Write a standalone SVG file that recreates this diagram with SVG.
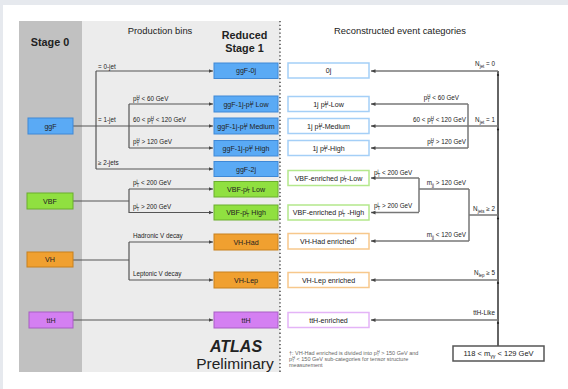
<svg xmlns="http://www.w3.org/2000/svg" width="568" height="389" viewBox="0 0 568 389">
<defs>
<marker id="ar" viewBox="0 0 6 6" refX="6" refY="3" markerWidth="4.5" markerHeight="4.5" orient="auto" markerUnits="userSpaceOnUse"><path d="M0,0.5 L6,3 L0,5.5 z" fill="#444"/></marker>
<style>
text{font-family:"Liberation Sans",Arial,sans-serif;fill:#222}
.hd{font-size:9.4px}
.bh{font-size:10.8px;font-weight:bold}
.bx{font-size:7.1px;text-anchor:middle}
.lb{font-size:6.3px}
.lr{font-size:6.3px;text-anchor:end}
.ln{fill:none;stroke:#555;stroke-width:1.2}
.lr2{fill:none;stroke:#777;stroke-width:1.5}
.tr{fill:none;stroke:#111;stroke-width:1.3}
.a{marker-end:url(#ar)}
.ggf{fill:#5aaaf5;stroke:#3e88d6;stroke-width:1}
.vbf{fill:#90e040;stroke:#6aae2c;stroke-width:1}
.vh{fill:#f0a030;stroke:#c8801c;stroke-width:1}
.tth{fill:#d47ff2;stroke:#a85ec4;stroke-width:1}
.rg{fill:#fff;stroke:#a4cff7;stroke-width:1.5}
.rv{fill:#fff;stroke:#b4e88c;stroke-width:1.5}
.rh{fill:#fff;stroke:#f7c88c;stroke-width:1.5}
.rt{fill:#fff;stroke:#e4b4f7;stroke-width:1.5}
.s{font-size:70%}
.fn{font-size:5.5px;fill:#666}
</style>
</defs>
<rect x="0" y="0" width="568" height="389" fill="#e6e9ee"/>
<rect x="3" y="5" width="565" height="384" fill="#fff"/>
<rect x="19" y="21" width="63" height="351" fill="#c1c1c1"/>
<rect x="82" y="21" width="198" height="351" fill="#ececec"/>
<line x1="280" y1="21" x2="280" y2="372" stroke="#333" stroke-width="1.3" stroke-dasharray="1.3 2.5"/>
<text class="bh" x="50" y="46" text-anchor="middle">Stage 0</text>
<text class="hd" x="160" y="34" text-anchor="middle">Production bins</text>
<text class="bh" x="244.5" y="39" text-anchor="middle">Reduced</text>
<text class="bh" x="244.5" y="52" text-anchor="middle">Stage 1</text>
<text class="hd" x="400" y="34" text-anchor="middle">Reconstructed event categories</text>

<g id="connectors">
<path class="ln" d="M73,126 H96 M96,71 V169"/>
<path class="ln a" d="M96,71 H213"/>
<path class="ln" d="M96,126 H129 M129,104 V148"/>
<path class="ln a" d="M129,104 H213"/>
<path class="ln a" d="M129,126 H213"/>
<path class="ln a" d="M129,148 H213"/>
<path class="ln a" d="M96,169 H213"/>
<path class="ln" d="M73,201 H129 M129,189 V213"/>
<path class="ln a" d="M129,189 H213"/>
<path class="ln a" d="M129,212.5 H213"/>
<path class="ln" d="M73,260 H129 M129,242 V280"/>
<path class="ln a" d="M129,242 H213"/>
<path class="ln a" d="M129,280 H213"/>
<path class="ln a" d="M73,320 H213"/>

<path class="tr" d="M498,71 V346"/>
<path class="lr2 a" d="M498,71 H371"/>
<path class="lr2 a" d="M498,126 H371"/>
<path class="lr2" d="M468,104 V148"/>
<path class="lr2 a" d="M468,104 H371"/>
<path class="lr2 a" d="M468,148 H371"/>
<path class="lr2" d="M498,215 H469 M469,189 V241 M469,189 H419 M419,178 V212"/>
<path class="lr2 a" d="M419,178 H371"/>
<path class="lr2 a" d="M419,212.5 H371"/>
<path class="lr2 a" d="M469,241 H371"/>
<path class="lr2 a" d="M498,280 H371"/>
<path class="lr2 a" d="M498,320 H371"/>
<g fill="#222"><circle cx="498" cy="75" r="1.1"/><circle cx="498" cy="129.5" r="1.1"/><circle cx="498" cy="218.5" r="1.1"/><circle cx="498" cy="283" r="1.1"/><circle cx="498" cy="323" r="1.1"/></g>

<text class="lb" x="98" y="69">= 0-jet</text>
<text class="lb" x="98" y="122">= 1-jet</text>
<text class="lb" x="133" y="101">p<tspan class="s" dy="1.5">T</tspan><tspan class="s" dx="-2.6" dy="-3.5">H</tspan><tspan dy="2"> &lt; 60 GeV</tspan></text>
<text class="lb" x="133" y="122">60 &lt; p<tspan class="s" dy="1.5">T</tspan><tspan class="s" dx="-2.6" dy="-3.5">H</tspan><tspan dy="2"> &lt; 120 GeV</tspan></text>
<text class="lb" x="133" y="144">p<tspan class="s" dy="1.5">T</tspan><tspan class="s" dx="-2.6" dy="-3.5">H</tspan><tspan dy="2"> &gt; 120 GeV</tspan></text>
<text class="lb" x="98" y="165">≥ 2-jets</text>
<text class="lb" x="133" y="185">p<tspan class="s" dy="-2">j</tspan><tspan class="s" dx="-1" dy="3.5">T</tspan><tspan dy="-1.5"> &lt; 200 GeV</tspan></text>
<text class="lb" x="133" y="209">p<tspan class="s" dy="-2">j</tspan><tspan class="s" dx="-1" dy="3.5">T</tspan><tspan dy="-1.5"> &gt; 200 GeV</tspan></text>
<text class="lb" x="133" y="238">Hadronic V decay</text>
<text class="lb" x="133" y="276">Leptonic V decay</text>

<text class="lr" x="495" y="66">N<tspan class="s" dy="1.5">jet</tspan><tspan dy="-1.5"> = 0</tspan></text>
<text class="lr" x="459" y="100">p<tspan class="s" dy="1.5">T</tspan><tspan class="s" dx="-2.6" dy="-3.5">H</tspan><tspan dy="2"> &lt; 60 GeV</tspan></text>
<text class="lr" x="466" y="122">60 &lt; p<tspan class="s" dy="1.5">T</tspan><tspan class="s" dx="-2.6" dy="-3.5">H</tspan><tspan dy="2"> &lt; 120 GeV</tspan></text>
<text class="lr" x="495" y="122">N<tspan class="s" dy="1.5">jet</tspan><tspan dy="-1.5"> = 1</tspan></text>
<text class="lr" x="466" y="144">p<tspan class="s" dy="1.5">T</tspan><tspan class="s" dx="-2.6" dy="-3.5">H</tspan><tspan dy="2"> &gt; 120 GeV</tspan></text>
<text class="lb" x="374" y="175">p<tspan class="s" dy="-2">j</tspan><tspan class="s" dx="-1" dy="3.5">T</tspan><tspan dy="-1.5"> &lt; 200 GeV</tspan></text>
<text class="lb" x="374" y="208">p<tspan class="s" dy="-2">j</tspan><tspan class="s" dx="-1" dy="3.5">T</tspan><tspan dy="-1.5"> &gt; 200 GeV</tspan></text>
<text class="lr" x="466" y="185">m<tspan class="s" dy="1.5">jj</tspan><tspan dy="-1.5"> &gt; 120 GeV</tspan></text>
<text class="lr" x="495" y="211">N<tspan class="s" dy="1.5">jets</tspan><tspan dy="-1.5"> ≥ 2</tspan></text>
<text class="lr" x="466" y="237">m<tspan class="s" dy="1.5">jj</tspan><tspan dy="-1.5"> &lt; 120 GeV</tspan></text>
<text class="lr" x="495" y="275">N<tspan class="s" dy="1.5">lep</tspan><tspan dy="-1.5"> ≥ 5</tspan></text>
<text class="lr" x="495" y="315">ttH-Like</text>
</g>

<g id="s0-ggF"><rect class="ggf" x="28" y="118" width="45" height="16"/><text class="bx" x="50.5" y="128.5">ggF</text></g>
<g id="s0-VBF"><rect class="vbf" x="27" y="193" width="46" height="16"/><text class="bx" x="50" y="203.5">VBF</text></g>
<g id="s0-VH"><rect class="vh" x="27" y="252" width="46" height="15"/><text class="bx" x="50" y="262">VH</text></g>
<g id="s0-ttH"><rect class="tth" x="29" y="312" width="44" height="16"/><text class="bx" x="51" y="322.5">ttH</text></g>

<g id="s1-ggF-0j"><rect class="ggf" x="214" y="63" width="64" height="15.5"/><text class="bx" x="246" y="73">ggF-0j</text></g>
<g id="s1-ggF-1j-low"><rect class="ggf" x="214" y="96" width="64" height="16"/><text class="bx" x="246" y="106.5">ggF-1j-p<tspan class="s" dy="1.5">T</tspan><tspan class="s" dx="-2.8" dy="-3.5">H</tspan><tspan dy="2"> Low</tspan></text></g>
<g id="s1-ggF-1j-med"><rect class="ggf" x="214" y="118" width="64" height="16"/><text class="bx" x="246" y="128.5">ggF-1j-p<tspan class="s" dy="1.5">T</tspan><tspan class="s" dx="-2.8" dy="-3.5">H</tspan><tspan dy="2"> Medium</tspan></text></g>
<g id="s1-ggF-1j-high"><rect class="ggf" x="214" y="140.5" width="64" height="15.5"/><text class="bx" x="246" y="150.5">ggF-1j-p<tspan class="s" dy="1.5">T</tspan><tspan class="s" dx="-2.8" dy="-3.5">H</tspan><tspan dy="2"> High</tspan></text></g>
<g id="s1-ggF-2j"><rect class="ggf" x="214" y="161.5" width="64" height="15"/><text class="bx" x="246" y="171.5">ggF-2j</text></g>
<g id="s1-VBF-low"><rect class="vbf" x="214" y="181.5" width="64" height="15.5"/><text class="bx" x="246" y="191.5">VBF-p<tspan class="s" dy="-2">j</tspan><tspan class="s" dx="-1.1" dy="3.5">T</tspan><tspan dy="-1.5"> Low</tspan></text></g>
<g id="s1-VBF-high"><rect class="vbf" x="214" y="205" width="64" height="15"/><text class="bx" x="246" y="215">VBF-p<tspan class="s" dy="-2">j</tspan><tspan class="s" dx="-1.1" dy="3.5">T</tspan><tspan dy="-1.5"> High</tspan></text></g>
<g id="s1-VH-Had"><rect class="vh" x="214" y="234" width="64" height="16"/><text class="bx" x="246" y="244.5">VH-Had</text></g>
<g id="s1-VH-Lep"><rect class="vh" x="214" y="272" width="64" height="16"/><text class="bx" x="246" y="282.5">VH-Lep</text></g>
<g id="s1-ttH"><rect class="tth" x="214" y="312" width="64" height="16"/><text class="bx" x="246" y="322.5">ttH</text></g>

<g id="c-0j"><rect class="rg" x="288" y="63" width="81" height="15"/><text class="bx" x="328.5" y="73">0j</text></g>
<g id="c-1j-low"><rect class="rg" x="288" y="96.5" width="81" height="15"/><text class="bx" x="328.5" y="106.5">1j p<tspan class="s" dy="1.5">T</tspan><tspan class="s" dx="-2.8" dy="-3.5">H</tspan><tspan dy="2">-Low</tspan></text></g>
<g id="c-1j-med"><rect class="rg" x="288" y="118.5" width="81" height="15"/><text class="bx" x="328.5" y="128.5">1j p<tspan class="s" dy="1.5">T</tspan><tspan class="s" dx="-2.8" dy="-3.5">H</tspan><tspan dy="2">-Medium</tspan></text></g>
<g id="c-1j-high"><rect class="rg" x="288" y="140.5" width="81" height="15"/><text class="bx" x="328.5" y="150.5">1j p<tspan class="s" dy="1.5">T</tspan><tspan class="s" dx="-2.8" dy="-3.5">H</tspan><tspan dy="2">-High</tspan></text></g>
<g id="c-VBF-low"><rect class="rv" x="288" y="170.5" width="81" height="15"/><text class="bx" x="328.5" y="180.5">VBF-enriched p<tspan class="s" dy="-2">j</tspan><tspan class="s" dx="-1.1" dy="3.5">T</tspan><tspan dy="-1.5">-Low</tspan></text></g>
<g id="c-VBF-high"><rect class="rv" x="288" y="205" width="81" height="15"/><text class="bx" x="328.5" y="215">VBF-enriched p<tspan class="s" dy="-2">j</tspan><tspan class="s" dx="-1.1" dy="3.5">T</tspan><tspan dy="-1.5"> -High</tspan></text></g>
<g id="c-VH-Had"><rect class="rh" x="288" y="233.5" width="81" height="15.5"/><text class="bx" x="328.5" y="243.5">VH-Had enriched<tspan class="s" dy="-2.5">†</tspan></text></g>
<g id="c-VH-Lep"><rect class="rh" x="288" y="272.5" width="81" height="15"/><text class="bx" x="328.5" y="282.5">VH-Lep enriched</text></g>
<g id="c-ttH"><rect class="rt" x="288" y="312.5" width="81" height="15"/><text class="bx" x="328.5" y="322.5">ttH-enriched</text></g>

<g id="mass"><rect x="453" y="346" width="91" height="15" fill="#fff" stroke="#555" stroke-width="1.5"/><text x="498.5" y="356.3" text-anchor="middle" font-size="7.5px">118 &lt; m<tspan class="s" dy="1.5">γγ</tspan><tspan dy="-1.5"> &lt; 129 GeV</tspan></text></g>

<text x="236" y="352" text-anchor="middle" font-size="16px" font-weight="bold" font-style="italic">ATLAS</text>
<text x="235" y="369" text-anchor="middle" font-size="15.5px">Preliminary</text>

<text class="fn" x="289" y="354.5">†: VH-Had enriched is divided into p<tspan class="s" dy="1">T</tspan><tspan class="s" dx="-2.2" dy="-2.5">H</tspan><tspan dy="1.5"> &gt; 150 GeV and</tspan></text>
<text class="fn" x="289" y="360.5">p<tspan class="s" dy="1">T</tspan><tspan class="s" dx="-2.2" dy="-2.5">H</tspan><tspan dy="1.5"> &lt; 150 GeV sub-categories for tensor structure</tspan></text>
<text class="fn" x="289" y="366.5">measurement</text>
</svg>
